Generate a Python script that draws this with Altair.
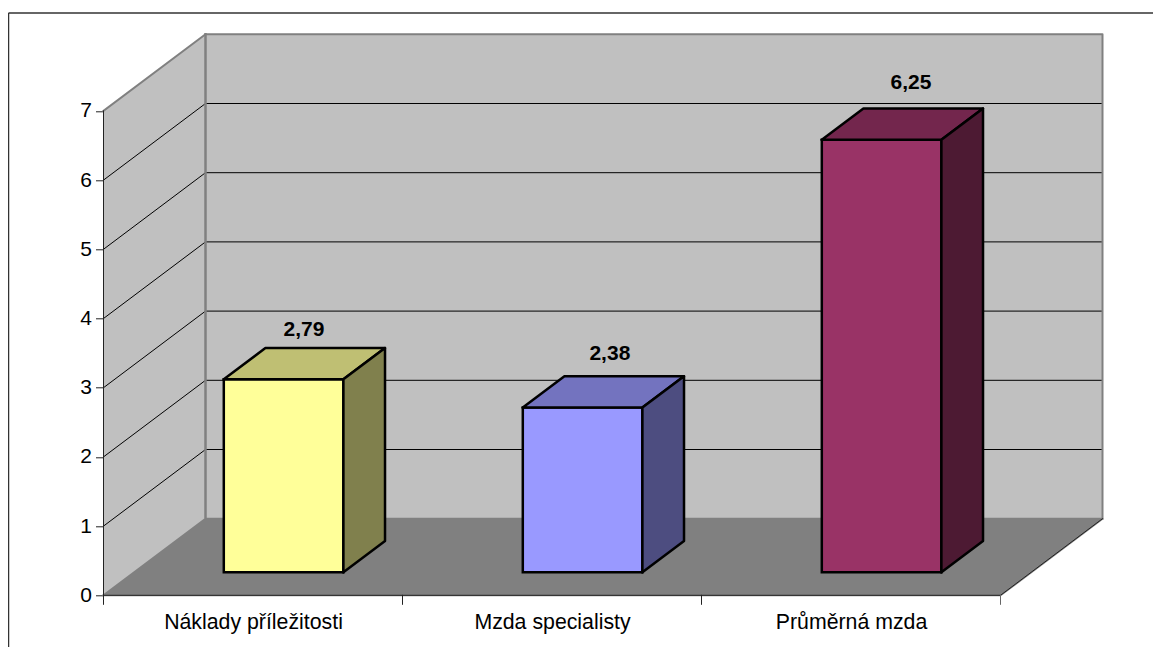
import altair as alt
import pandas as pd

categories = ["Náklady příležitosti", "Mzda specialisty", "Průměrná mzda"]
values = [2.79, 2.38, 6.25]
value_labels = ["2,79", "2,38", "6,25"]
front_colors = ["#FFFF99", "#9999FF", "#993366"]
top_colors = ["#BFBF73", "#7373BF", "#73264D"]
side_colors = ["#80804D", "#4D4D80", "#4D1A33"]
y_ticks = [0, 1, 2, 3, 4, 5, 6, 7]

PX_CAT = 299.0
PX_UNIT = 69.2
DX = 102.0 / PX_CAT
DY = 76.6 / PX_UNIT
D0, D1 = 0.30, 0.708
X_MAX = 3 + DX
Y_MAX = 7 + DY
W = X_MAX * PX_CAT
H = Y_MAX * PX_UNIT
LABEL_RAISE = [0.49, 0.55, 0.60]
LABEL_SHIFT = [0.0, 0.023, 0.03]

rows = []
n = 0


def poly(points, fill, stroke, width):
    global n
    n += 1
    for i, (c, v, d) in enumerate(points):
        rows.append({"poly": n, "i": i, "x": c + d * DX, "y": v + d * DY,
                     "fill": fill, "stroke": stroke, "sw": width})


NONE = "transparent"
WALL, EDGE = "#C0C0C0", "#808080"
poly([(0, 0, 0), (0, 7, 0), (0, 7, 1), (0, 0, 1), (0, 0, 0)], WALL, NONE, 1)
poly([(0, 0, 1), (0, 7, 1), (3, 7, 1), (3, 0, 1), (0, 0, 1)], WALL, NONE, 1)
poly([(0, 0, 0), (0, 0, 1), (3, 0, 1), (3, 0, 0), (0, 0, 0)], EDGE, EDGE, 2)
for t in y_ticks[1:-1]:
    poly([(0, t, 0), (0, t, 1), (3, t, 1)], NONE, "#000000", 1)
poly([(0, 7, 0), (0, 7, 1), (3, 7, 1), (3, 0, 1)], NONE, EDGE, 2)
poly([(0, 0.02, 1), (0, 7, 1)], NONE, EDGE, 2.5)
poly([(0, 0, 0), (0, 7, 0)], NONE, "#222222", 1)
poly([(0, 0, 0), (3, 0, 0), (3, 0, 1)], NONE, "#222222", 1)
for c in range(4):
    poly([(c, 0, 0), (c, -9 / PX_UNIT, 0)], NONE, "#222222" if c < 3 else "#666666", 1)

for k, v in enumerate(values):
    a, b = k + 0.3, k + 0.7
    poly([(a, 0, D0), (a, v, D0), (b, v, D0), (b, 0, D0), (a, 0, D0)], front_colors[k], "#000000", 2.5)
    poly([(a, v, D0), (a, v, D1), (b, v, D1), (b, v, D0), (a, v, D0)], top_colors[k], "#000000", 2.5)
    poly([(b, 0, D0), (b, 0, D1), (b, v, D1), (b, v, D0), (b, 0, D0)], side_colors[k], "#000000", 2.5)

df = pd.DataFrame(rows)
labels = pd.DataFrame({
    "x": [k + 0.5 + 0.5 * DX + s for k, s in enumerate(LABEL_SHIFT)],
    "y": [v + 0.5 * DY + r for v, r in zip(values, LABEL_RAISE)],
    "t": value_labels,
})

FONT = "Liberation Sans"
xs = alt.Scale(domain=[0, X_MAX], nice=False, zero=False)
ys = alt.Scale(domain=[0, Y_MAX], nice=False, zero=False)
names = "{'0.5':'%s','1.5':'%s','2.5':'%s'}" % tuple(categories)

shapes = alt.Chart(df).mark_line(clip=False, strokeJoin="round", strokeCap="square", interpolate="linear").encode(
    x=alt.X("x:Q", scale=xs, axis=alt.Axis(
        values=[0.5, 1.5, 2.5], labelExpr=names + "[toString(datum.value)]",
        title=None, domain=False, ticks=False, grid=False, labelFont=FONT, labelFontSize=21.3,
        labelColor="#000000", labelPadding=16, labelFlush=False, labelOverlap=False)),
    y=alt.Y("y:Q", scale=ys, axis=alt.Axis(
        values=y_ticks, title=None, domain=False, grid=False, tickSize=8, tickColor="#222222",
        labelFont=FONT, labelFontSize=21, labelColor="#000000", labelPadding=4, format="d")),
    detail="poly:N",
    order="i:Q",
    fill=alt.Fill("fill:N", scale=None),
    stroke=alt.Stroke("stroke:N", scale=None),
    strokeWidth=alt.StrokeWidth("sw:Q", scale=None),
)

text = alt.Chart(labels).mark_text(font=FONT, fontSize=21, fontWeight="bold", color="#000000").encode(
    x=alt.X("x:Q", scale=xs), y=alt.Y("y:Q", scale=ys), text="t:N")

frame_top = alt.Chart(pd.DataFrame({"a": [0]})).mark_rule(color="#333333", strokeWidth=1.5).encode(
    x=alt.value(-95), x2=alt.value(W + 60), y=alt.value(-21.3))
frame_left = alt.Chart(pd.DataFrame({"a": [0]})).mark_rule(color="#333333", strokeWidth=1.5).encode(
    x=alt.value(-95), y=alt.value(-21.3), y2=alt.value(H + 60))

TOP = 26.3
chart = (frame_top + frame_left + shapes + text).properties(
    width=W, height=H,
    padding={"left": 95.5, "top": TOP, "right": 1145 - 95.5 - W, "bottom": 639 - TOP - H},
    autosize=alt.AutoSizeParams(type="none"),
).configure_view(stroke=None)

chart.save("out.html", embed_options={"renderer": "svg", "actions": False})
